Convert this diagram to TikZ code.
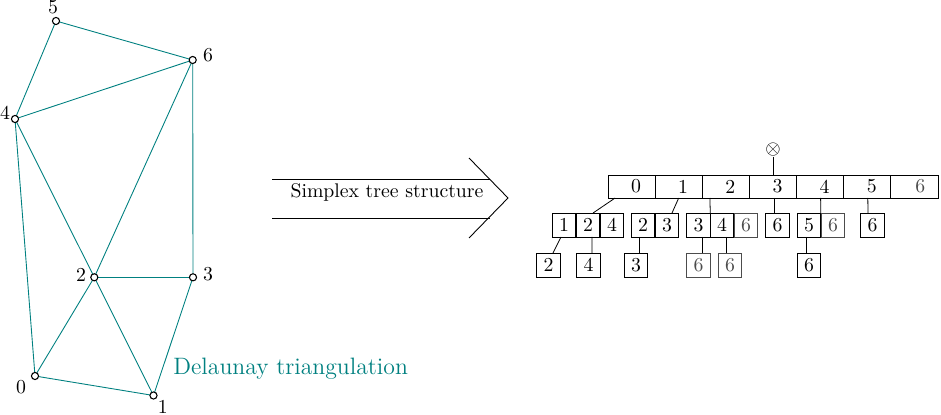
\documentclass[tikz,border=0pt]{standalone}
\usetikzlibrary{calc}
\begin{document}
\begin{tikzpicture}[x=0.506pt,y=-0.506pt,
  vtx/.style={circle,draw=black,fill=white,inner sep=0pt,minimum size=3.6pt,line width=0.55pt},
  edge/.style={teal,line width=0.45pt},
  lab/.style={inner sep=0pt},
  topcell/.style={draw,minimum width=23.85pt,minimum height=11.64pt,inner sep=0pt,outer sep=0pt,line width=0.4pt},
  cell/.style={draw,minimum width=11.9pt,minimum height=12.1pt,inner sep=0pt,outer sep=0pt,line width=0.4pt},
  faint/.style={draw=black!70,text=black!70},
  link/.style={line width=0.4pt},
  arrowline/.style={line width=0.45pt}]
\useasboundingbox (0,0) rectangle (941,415);

% ---------- Delaunay triangulation ----------
\coordinate (p0) at (35,376);
\coordinate (p1) at (153.5,395.5);
\coordinate (p2) at (94.3,277.3);
\coordinate (p3) at (193,277.3);
\coordinate (p4) at (15,119);
\coordinate (p5) at (56,21);
\coordinate (p6) at (192.7,60);

\draw[edge] (p5) -- (p6);
\draw[edge] (p5) -- (p4);
\draw[edge] (p4) -- (p6);
\draw[edge] (p6) -- (p2);
\draw[edge] (p6) -- (p3);
\draw[edge] (p4) -- (p2);
\draw[edge] (p4) -- (p0);
\draw[edge] (p2) -- (p3);
\draw[edge] (p2) -- (p0);
\draw[edge] (p2) -- (p1);
\draw[edge] (p3) -- (p1);
\draw[edge] (p0) -- (p1);

\foreach \i in {0,...,6} { \node[vtx] (v\i) at (p\i) {}; }

\node[lab] (l5) at (53,7.5) {5};
\node[lab] (l6) at (208,55) {6};
\node[lab] (l4) at (5,113) {4};
\node[lab] (l2) at (81,275) {2};
\node[lab] (l3) at (208,274) {3};
\node[lab] (l0) at (21,387) {0};
\node[lab] (l1) at (162.7,407) {1};

\node[lab,anchor=west,text=teal,font=\large] (dt) at (173,369) {Delaunay triangulation};

% ---------- Arrow ----------
\coordinate (aTL) at (272,179);
\coordinate (aTR) at (489.5,179);
\coordinate (aBL) at (272,218);
\coordinate (aBR) at (489.5,218);
\coordinate (hT) at (469,158);
\coordinate (hTip) at (508,198);
\coordinate (hB) at (469,238);
\draw[arrowline] (aTL) -- (aTR);
\draw[arrowline] (aBL) -- (aBR);
\draw[arrowline] (hT) -- (hTip) -- (hB);
\node[lab] (st) at (387,192.5) {Simplex tree structure};

% ---------- Simplex tree ----------
\node[inner sep=0pt] (root) at (773,150) {$\otimes$};

\node[topcell] (r0) at (631.6,186.5) {\hspace*{4.5pt}0};
\node[topcell] (r1) at (678.7,186.5) {\hspace*{4.5pt}1};
\node[topcell] (r2) at (725.9,186.5) {\hspace*{4.5pt}2};
\node[topcell] (r3) at (773.0,186.5) {\hspace*{4.5pt}3};
\node[topcell] (r4) at (820.1,186.5) {\hspace*{4.5pt}4};
\node[topcell] (r5) at (867.3,186.5) {\hspace*{4.5pt}5};
\node[topcell,text=black!70] (r6) at (914.4,186.5) {\hspace*{6pt}6};

\draw[link] (root) -- (r3.north);

% second row
\node[cell] (c00) at (564,225) {1};
\node[cell] (c01) at (588,225) {2};
\node[cell] (c02) at (612,225) {4};
\node[cell] (c10) at (643,225) {2};
\node[cell] (c11) at (667,225) {3};
\node[cell] (c20) at (698.5,225) {3};
\node[cell] (c21) at (722,225) {4};
\node[cell,faint] (c22) at (746,225) {6};
\node[cell] (c30) at (777.5,225) {6};
\node[cell] (c40) at (809,225) {5};
\node[cell,faint] (c41) at (833,225) {6};
\node[cell] (c50) at (872.5,225) {6};

% third row
\node[cell] (d0) at (548.5,265) {2};
\node[cell] (d1) at (588.5,265) {4};
\node[cell] (d2) at (636,265) {3};
\node[cell,faint] (d3) at (698.5,265) {6};
\node[cell,faint] (d4) at (730,265) {6};
\node[cell] (d5) at (809,265) {6};

% links top row -> second row
\draw[link] ($(r0.south)+(-16.5,0)$) -- ($(c01.north)+(5,0)$);
\draw[link] (r1.south) -- ($(c11.north)+(5,0)$);
\draw[link] ($(r2.south)+(-16,0)$) -- (c20.north east);
\draw[link] ($(r3.south)+(1,0)$) -- ($(c30.north)+(-3.5,0)$);
\draw[link] ($(r4.south)+(0.5,0)$) -- (c40.north east);
\draw[link] ($(r5.south)+(0.5,0)$) -- ($(c50.north)+(-4.5,0)$);

% links second row -> third row
\draw[link] ($(c00.south)+(-3,0)$) -- ($(d0.north)+(4.5,0)$);
\draw[link] ($(c01.south)+(4,0)$) -- ($(d1.north)+(3.5,0)$);
\draw[link] ($(c10.south)+(-4,0)$) -- ($(d2.north)+(3,0)$);
\draw[link] ($(c20.south)+(3.5,0)$) -- ($(d3.north)+(3.5,0)$);
\draw[link] ($(c21.south)+(4,0)$) -- ($(d4.north)+(-4,0)$);
\draw[link] ($(c40.south)+(-3,0)$) -- ($(d5.north)+(-3,0)$);
\end{tikzpicture}
\end{document}
